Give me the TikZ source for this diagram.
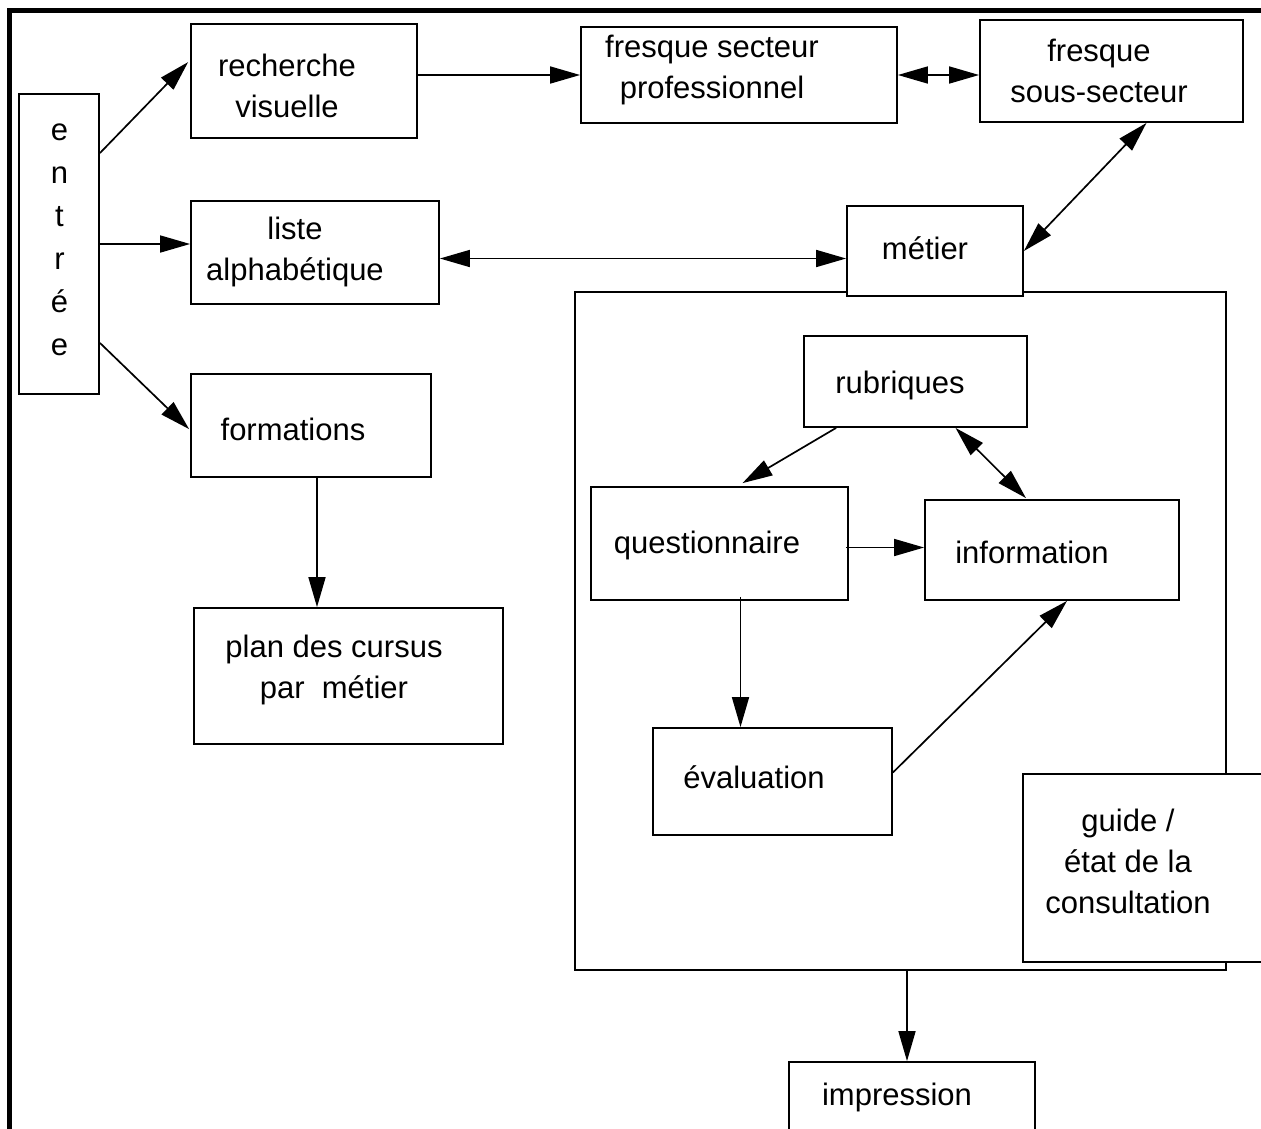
\documentclass[tikz,border=0pt]{standalone}
\usepackage{fontspec}
\setmainfont{Liberation Sans}
\usetikzlibrary{arrows.meta,fit,calc}
\begin{document}
\begin{tikzpicture}[x=1pt,y=-1pt,
  box/.style={draw,line width=1.8pt,fill=white,inner sep=0pt},
  lbl/.style={font=\fontsize{31}{41}\selectfont,inner sep=0pt,align=center},
  tip/.style={},
  arr/.style={line width=1.7pt,-{Triangle[length=30pt,width=17pt]}},
  darr/.style={line width=1.7pt,{Triangle[length=30pt,width=17pt]}-{Triangle[length=30pt,width=17pt]}}]
\useasboundingbox (0,0) rectangle (1261,1128);
\fill[white] (0,0) rectangle (1261,1128);
% outer border (top and left only visible)
\draw[line width=5pt] (9.5,1140) -- (9.5,10.5) -- (1275,10.5);

% big frame
\node[box,fit={(575,292) (1226,970)}] (frame) {};

% boxes
\node[box,fit={(19,94) (99,394)}] (entree) {};
\node[box,fit={(191,24) (417,138)}] (rech) {};
\node[box,fit={(581,27) (897,123)}] (fsec) {};
\node[box,fit={(980,20) (1243,122)}] (fsous) {};
\node[box,fit={(191,201) (439,304)}] (liste) {};
\node[box,fit={(847,206) (1023,296)}] (metier) {};
\node[box,fit={(191,374) (431,477)}] (form) {};
\node[box,fit={(194,608) (503,744)}] (plan) {};
\node[box,fit={(804,336) (1027,427)}] (rub) {};
\node[box,fit={(591,487) (848,600)}] (quest) {};
\node[box,fit={(925,500) (1179,600)}] (info) {};
\node[box,fit={(653,728) (892,835)}] (eval) {};
\node[box,fit={(1023,774) (1275,962)}] (guide) {};
\node[box,fit={(789,1062) (1035,1145)}] (imp) {};

% labels
\node[lbl,font=\fontsize{31}{43}\selectfont] (tentree) at (59.5,240) {e\\n\\t\\r\\é\\e};
\node[lbl] (trech) at (287,86) {recherche\\visuelle};
\node[lbl] (tfsec) at (712,70) {fresque secteur\\professionnel};
\node[lbl] (tfsous) at (1099,71) {fresque\\sous-secteur};
\node[lbl] (tliste) at (295,252) {liste\\alphabétique};
\node[lbl] (tmetier) at (925,248) {métier};
\node[lbl] (tform) at (293,429) {formations};
\node[lbl] (tplan) at (334,670) {plan des cursus\\par~~métier};
\node[lbl] (trub) at (900,385) {rubriques};
\node[lbl] (tquest) at (707,545) {questionnaire};
\node[lbl] (tinfo) at (1032,552) {information};
\node[lbl] (teval) at (754,777) {évaluation};
\node[lbl] (tguide) at (1128,861) {guide /\\état de la\\consultation};
\node[lbl] (timp) at (897,1097) {impression};

% connectors
\draw[arr] ($(entree.north east)+(0,60)$) -- ($(rech.north west)+(-2,39)$);
\draw[arr] (entree.east) -- (entree.east -| liste.west);
\draw[arr] ($(entree.south east)+(0,-52)$) -- ($(form.north west)+(-1,56)$);
\draw[arr] (rech.east |- fsec.west) -- (fsec.west);
\draw[darr] (fsec.east) -- (fsec.east -| fsous.west);
\draw[darr] ($(fsous.south)+(35,0)$) -- (metier.east);
\coordinate (la) at ($(liste.east)+(0,6)$);
\draw[darr] (la) -- (la -| metier.west);
\coordinate (fa) at ($(form.south)+(6,0)$);
\draw[arr] (fa) -- (fa |- plan.north);
\draw[arr] ($(rub.south west)+(33,0)$) -- ($(quest.north)+(23,-3)$);
\draw[darr] ($(rub.south)+(40,0)$) -- ($(info.north)+(-26,-1)$);
\coordinate (qa) at ($(quest.east)+(-3,4)$);
\draw[arr] (qa) -- (qa -| info.west);
\coordinate (qb) at ($(quest.south)+(21,-4)$);
\draw[arr] (qb) -- (qb |- eval.north);
\draw[arr] ($(eval.east)+(0,-9)$) -- ($(info.south)+(15,0)$);
\coordinate (ia) at ($(imp.north)+(-5,0)$);
\draw[arr] (ia |- frame.south) -- (ia);
\end{tikzpicture}
\end{document}
